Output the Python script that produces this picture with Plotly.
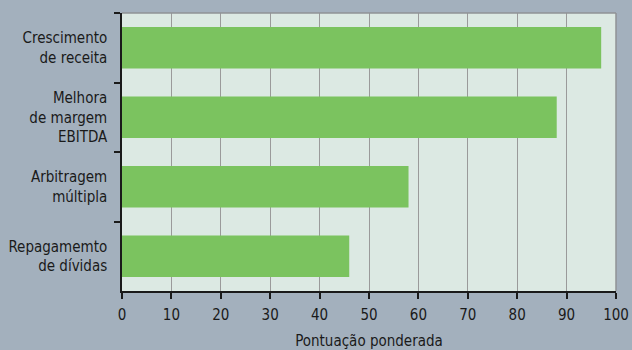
import plotly.graph_objects as go

categories = ["Crescimento<br>de receita", "Melhora<br>de margem<br>EBITDA", "Arbitragem<br>múltipla", "Repagamemto<br>de dívidas"]
values = [97, 88, 58, 46]
x_ticks = [0, 10, 20, 30, 40, 50, 60, 70, 80, 90, 100]

FONT = "DejaVu Sans Condensed, Liberation Sans Narrow, sans-serif"

fig = go.Figure(go.Bar(
    x=values, y=categories, orientation="h",
    marker=dict(color="#7bc35f", line=dict(width=0)),
    width=0.6,
))

fig.update_layout(
    width=632, height=350,
    margin=dict(l=122, r=16, t=13, b=59),
    paper_bgcolor="#a3b0bd",
    plot_bgcolor="#dce9e3",
    font=dict(family=FONT, size=14, color="#1a1a1a"),
    showlegend=False,
    bargap=0.4,
)
fig.update_xaxes(
    range=[0, 100], tickvals=x_ticks,
    showgrid=True, gridcolor="#9a9a9a", gridwidth=1,
    showline=True, linecolor="#1a1a1a", linewidth=1.5,
    ticks="outside", ticklen=6, tickcolor="#1a1a1a", tickwidth=1.5,
    tickfont=dict(size=15),
    ticklabelstandoff=3,
    title=dict(text="Pontuação ponderada", standoff=22, font=dict(size=15)),
    zeroline=False, automargin=False,
)
fig.update_yaxes(
    autorange="reversed",
    showline=True, linecolor="#1a1a1a", linewidth=1.5,
    ticks="outside", ticklen=6, tickcolor="#1a1a1a", tickwidth=1.5,
    tickson="boundaries",
    tickfont=dict(size=15),
    showgrid=False, automargin=False,
    ticklabelstandoff=10,
)
fig.add_shape(type="line", xref="paper", yref="paper", x0=0, x1=1, y0=1, y1=1,
              line=dict(color="#8f9296", width=1.5))
fig.add_shape(type="line", xref="paper", yref="paper", x0=1, x1=1, y0=0, y1=1,
              line=dict(color="#8f9296", width=1.5))

fig.write_html("out.html")
